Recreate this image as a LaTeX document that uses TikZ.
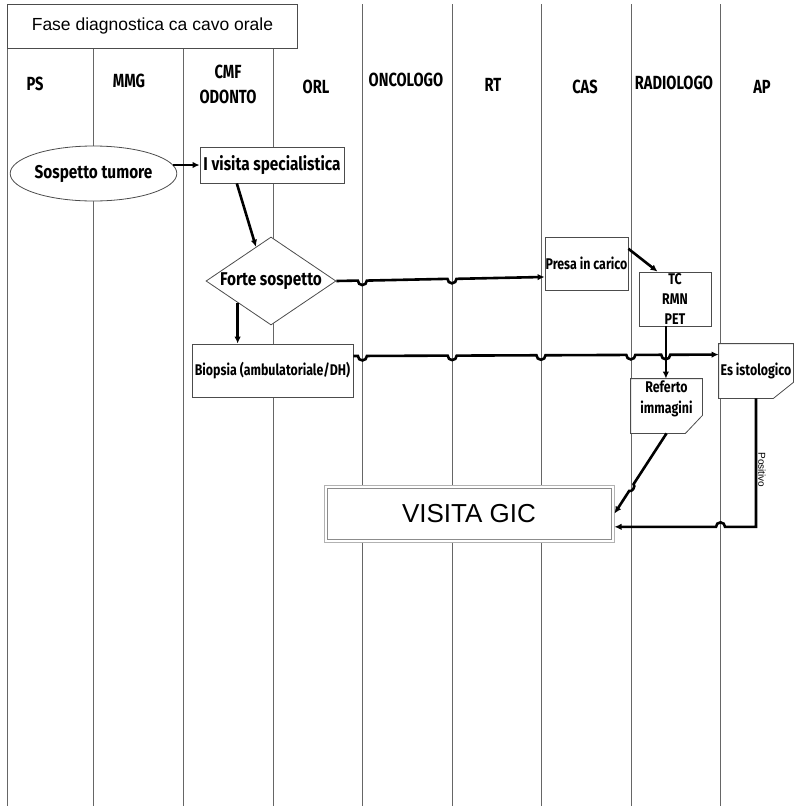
\documentclass[tikz,border=0pt]{standalone}
\usepackage{fontspec}
\setmainfont{Liberation Sans}
\newfontfamily\hdrf[FakeStretch=0.77]{Fira Sans}
\newfontfamily\nodef[FakeStretch=0.83]{Fira Sans}
\newfontfamily\smallf[FakeStretch=0.8]{Fira Sans}
\usetikzlibrary{shapes.geometric,arrows.meta,calc}
\begin{document}
\begin{tikzpicture}[x=1pt,y=-1pt,
  lane/.style={draw=black!60,line width=0.9pt},
  hdr/.style={font=\hdrf\bfseries\fontsize{19}{25}\selectfont,align=center,inner sep=0pt},
  box/.style={draw=black!70,line width=0.8pt,fill=white,inner sep=0pt,
    font=\nodef\bfseries\fontsize{18.5}{20}\selectfont},
  sbox/.style={box,font=\smallf\bfseries\fontsize{15.5}{20}\selectfont,align=center},
  conn/.style={line width=2.6pt,-{Latex[length=7pt,width=6.5pt]}},
  plain/.style={line width=2.6pt}]
\useasboundingbox (0,0) rectangle (795,806);
% swimlane grid
\draw[lane] (7,4) -- (7,806);
\foreach \x in {93,183,273}{\draw[lane] (\x,48) -- (\x,806);}
\foreach \x in {362,452,541,631,720}{\draw[lane] (\x,4) -- (\x,806);}
\node[draw=black!70,line width=0.9pt,fill=white,minimum width=290,minimum height=44,
  inner sep=0pt,anchor=north west,font=\fontsize{17.5}{20}\selectfont] (title) at (7,4)
  {Fase diagnostica ca cavo orale};
% headers
\node[hdr] (hPS) at (35,84) {PS};
\node[hdr] (hMMG) at (129,81) {MMG};
\node[hdr] (hCMF) at (228,84) {CMF\\ODONTO};
\node[hdr] (hORL) at (316,87) {ORL};
\node[hdr] (hONC) at (406,80) {ONCOLOGO};
\node[hdr] (hRT) at (493,85) {RT};
\node[hdr] (hCAS) at (585,87) {CAS};
\node[hdr] (hRAD) at (674,83) {RADIOLOGO};
\node[hdr] (hAP) at (762,87) {AP};
% nodes
\node[box,ellipse,minimum width=143,minimum height=55] (sosp) at (93.5,173.5) {Sospetto tumore};
\node[box,minimum width=144,minimum height=36] (visita) at (272,165) {I visita specialistica};
\node[box,diamond,aspect=1.48,minimum width=130,minimum height=88] (forte) at (271,281) {Forte sospetto};
\node[sbox,minimum width=161,minimum height=53] (biop) at (272.5,370.5) {Biopsia (ambulatoriale/DH)};
\node[sbox,minimum width=83,minimum height=53] (presa) at (586.5,263.5) {Presa in carico};
\node[sbox,minimum width=72,minimum height=54] (tc) at (675,299) {TC\\RMN\\PET};
\node[sbox,draw=none,minimum width=74,minimum height=54] (esist) at (756,371) {Es istologico};
\draw[draw=black!70,line width=0.8pt] (esist.north west) -- (esist.north east)
  -- ($(esist.south east)+(0,-16)$) -- ($(esist.south east)+(-20,0)$) -- (esist.south west) -- cycle;
\node[sbox,draw=none,minimum width=71,minimum height=54] (referto) at (666.5,406) {};
\draw[draw=black!70,line width=0.8pt] (referto.north west) -- (referto.north east)
  -- ($(referto.south east)+(0,-18)$) -- ($(referto.south east)+(-17,0)$) -- (referto.south west) -- cycle;
\node[font=\smallf\bfseries\fontsize{15.5}{21}\selectfont,align=center,inner sep=0pt] (refertotxt)
  at ($(referto.center)+(0,-7.5)$) {Referto\\immagini};
\node[draw=black!30,line width=1pt,fill=white,minimum width=290,minimum height=57,inner sep=0pt,
  font=\fontsize{26}{30}\selectfont] (gic) at (469,513.5) {VISITA GIC};
\draw[black!45,line width=0.7pt] ($(gic.north west)+(3.5,3.5)$) rectangle ($(gic.south east)+(-3.5,-3.5)$);
% connectors
\draw[conn,shorten <=-4pt] (sosp.east |- visita.west) -- (visita.west);
\draw[conn] ($(visita.south west)!0.257!(visita.south east)$) -- ($(forte.west)!0.77!(forte.north)$);
\coordinate (fb) at ($(forte.west)!0.49!(forte.south)$);
\draw[conn] (fb) -- (fb |- biop.north);
\coordinate (pin) at ($(presa.south west)!0.25!(presa.north west)$);
\draw[conn] (forte.east) -- ($(forte.east)!0.1029!(pin)$) arc(180:0:4.5)
  -- ($(forte.east)!0.5335!(pin)$) arc(180:0:4.5) -- (pin);
\draw[conn] ($(presa.north east)!0.226!(presa.south east)$) -- ($(tc.north west)!0.26!(tc.north east)$);
\coordinate (tcout) at ($(tc.south west)!0.375!(tc.south east)$);
\draw[conn] (tcout) -- (tcout |- referto.north);
\coordinate (bout) at ($(biop.north east)!0.23!(biop.south east)$);
\coordinate (ein) at ($(esist.north west)!0.2!(esist.south west)$);
\draw[conn] (bout) -- ($(bout)!0.0123!(ein)$) arc(180:0:4.5)
  -- ($(bout)!0.2582!(ein)$) arc(180:0:4.5)
  -- ($(bout)!0.5013!(ein)$) arc(180:0:4.5)
  -- ($(bout)!0.7473!(ein)$) arc(180:0:4.5)
  -- ($(bout)!0.8429!(ein)$) arc(180:0:4.5) -- (ein);
\draw[conn] (referto.south) -- ($(referto.south)!0.634!(gic.east)$)
  to[bend left=90] ($(referto.south)!0.718!(gic.east)$) -- (gic.east);
\coordinate (gin) at ($(gic.south east)!0.27!(gic.north east)$);
\draw[conn] (esist.south) -- (esist.south |- gin) -- ($(gin)+(110.5,0)$) arc(0:-180:4.5) -- (gin);
\node[rotate=-90,font=\fontsize{10}{12}\selectfont,inner sep=0pt] (pos) at (762,470) {Positivo};
\end{tikzpicture}
\end{document}
